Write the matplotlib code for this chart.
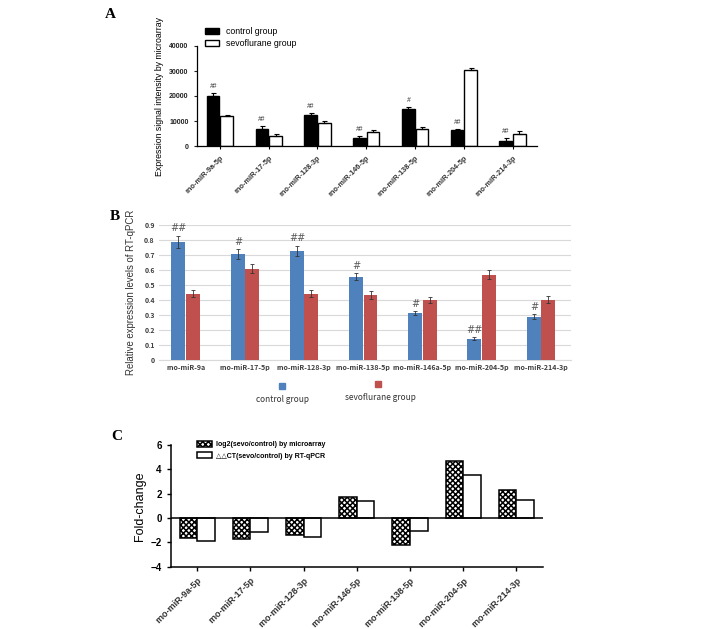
import numpy as np
import matplotlib; matplotlib.use("Agg")
import matplotlib.pyplot as plt
from matplotlib.patches import Rectangle

# --- panel A: microarray signal intensity ---
mirs_a = ["rno-miR-9a-5p", "rno-miR-17-5p", "rno-miR-128-3p", "rno-miR-146-5p",
          "rno-miR-138-5p", "rno-miR-204-5p", "rno-miR-214-3p"]
ctrl_a = [20000, 7000, 12300, 3200, 15000, 6300, 2200]
ctrl_a_err = [1200, 1000, 900, 900, 600, 700, 1100]
sevo_a = [12200, 4000, 9300, 5600, 6800, 30300, 5000]
sevo_a_err = [400, 900, 900, 900, 900, 1000, 900]
sig_a = ["##", "##", "##", "##", "#", "##", "##"]

# --- panel B: RT-qPCR ---
mirs_b = ["rno-miR-9a", "rno-miR-17-5p", "rno-miR-128-3p", "rno-miR-138-5p",
          "rno-miR-146a-5p", "rno-miR-204-5p", "rno-miR-214-3p"]
ctrl_b = [0.79, 0.706, 0.728, 0.556, 0.313, 0.141, 0.289]
ctrl_b_err = [0.04, 0.035, 0.035, 0.025, 0.015, 0.01, 0.015]
sevo_b = [0.443, 0.607, 0.443, 0.432, 0.397, 0.569, 0.402]
sevo_b_err = [0.025, 0.03, 0.025, 0.025, 0.02, 0.03, 0.025]
sig_b = ["##", "#", "##", "#", "#", "##", "#"]
yticks_b = [0, 0.1, 0.2, 0.3, 0.4, 0.5, 0.6, 0.7, 0.8, 0.9]

# --- panel C: fold change ---
mirs_c = mirs_a
fc_array = [-1.64, -1.72, -1.36, 1.74, -2.23, 4.69, 2.34]
fc_qpcr = [-1.88, -1.12, -1.58, 1.36, -1.09, 3.54, 1.47]

ARIAL = ["Liberation Sans", "DejaVu Sans"]
KR = ["Noto Sans CJK KR", "DejaVu Sans"]
plt.rcParams["font.family"] = ARIAL
plt.rcParams["hatch.linewidth"] = 1.1

fig = plt.figure(figsize=(7.08, 6.29), dpi=100)
W, H = 708, 629
def box(l, t, r, b):
    return [l / W, 1 - b / H, (r - l) / W, (b - t) / H]

# ---------------- A ----------------
axA = fig.add_axes(box(197, 46, 537, 146))
x = np.arange(len(mirs_a))
bw = 0.26
ekwA = dict(ecolor="black", elinewidth=0.8, capsize=1.8, capthick=0.8)
axA.bar(x - 0.14, ctrl_a, bw, color="black", edgecolor="black", lw=1,
        yerr=[np.zeros(7), ctrl_a_err], error_kw=ekwA, label="control group")
axA.bar(x + 0.14, sevo_a, bw, color="white", edgecolor="black", lw=1,
        yerr=[np.zeros(7), sevo_a_err], error_kw=ekwA, label="sevoflurane group")
for i, s in enumerate(sig_a):
    axA.text(x[i] - 0.14, ctrl_a[i] + ctrl_a_err[i] + 1200, s, ha="center", va="bottom",
             fontsize=4.8, style="italic", color="#333333")
axA.set_xlim(-0.47, 6.5); axA.set_ylim(0, 40000)
axA.set_yticks([0, 10000, 20000, 30000, 40000])
axA.set_xticks(x)
axA.set_xticklabels(mirs_a, rotation=45, ha="right", rotation_mode="anchor", fontsize=5.3,
                    fontweight="bold", color="#333333")
axA.tick_params(axis="y", labelsize=5, width=0.8, length=2.5, colors="#222222")
axA.tick_params(axis="x", width=0.8, length=2.5)
for lab in axA.get_yticklabels(): lab.set_fontweight("bold")
for s in ["top", "right"]: axA.spines[s].set_visible(False)
for s in ["left", "bottom"]: axA.spines[s].set_linewidth(0.9)
axA.set_ylabel("Expression signal intensity by microarray", fontsize=6.3, labelpad=4)
axA.legend(loc="upper left", bbox_to_anchor=(205 / W, 1 - 27 / H), bbox_transform=fig.transFigure,
           frameon=False, fontsize=6.3, handlelength=1.6, handleheight=0.8, labelspacing=0.35,
           borderaxespad=0, borderpad=0, handletextpad=0.8)

# ---------------- B ----------------
axB = fig.add_axes(box(159, 225, 570.5, 360))
xb = np.arange(len(mirs_b))
bwb = 0.235
blue, red = "#4F81BD", "#C0504D"
ekw = dict(ecolor="#333333", elinewidth=0.6, capsize=1.5, capthick=0.6)
axB.bar(xb - bwb / 2 - 0.005, ctrl_b, bwb, color=blue, yerr=ctrl_b_err, error_kw=ekw, zorder=3)
axB.bar(xb + bwb / 2 + 0.005, sevo_b, bwb, color=red, yerr=sevo_b_err, error_kw=ekw, zorder=3)
for i, s in enumerate(sig_b):
    axB.text(xb[i] - bwb / 2, ctrl_b[i] + ctrl_b_err[i] + 0.015, s, ha="center", va="bottom",
             fontsize=7, style="italic", color="#595959", family=["DejaVu Sans"])
axB.set_xlim(-0.45, 6.5); axB.set_ylim(0, 0.9)
axB.set_yticks(yticks_b)
axB.set_yticklabels([f"{v:g}" for v in yticks_b], fontsize=5, fontweight="bold", color="#404040", family=KR)
axB.set_xticks(xb)
axB.set_xticklabels(mirs_b, fontsize=5.1, fontweight="bold", color="#404040", family=KR)
axB.tick_params(length=0, pad=3)
axB.grid(axis="y", color="#d9d9d9", lw=0.8, zorder=0)
for s in ["top", "right", "left"]: axB.spines[s].set_visible(False)
axB.spines["bottom"].set_color("#d9d9d9")
axB.set_ylabel("Relative expression levels of RT-qPCR", fontsize=6.9, color="#333333", labelpad=6)
# legend below panel B
fig.add_artist(Rectangle((278.5 / W, 1 - 389 / H), 6.5 / W, 6.5 / H, color=blue, transform=fig.transFigure))
fig.add_artist(Rectangle((374.5 / W, 1 - 387 / H), 6.5 / W, 6.5 / H, color=red, transform=fig.transFigure))
fig.text(282 / W, 1 - 399 / H, "control group", ha="center", va="center", fontsize=6, color="#333333", family=KR)
fig.text(380 / W, 1 - 398 / H, "sevoflurane group", ha="center", va="center", fontsize=6, color="#333333", family=KR)

# ---------------- C ----------------
axC = fig.add_axes(box(170.7, 445, 543, 566.7))
xc = np.arange(len(mirs_c))
bwc = 0.33
axC.bar(xc - bwc / 2, fc_array, bwc, color="white", edgecolor="black", lw=1.1, hatch="xxxxxx",
        label="log2(sevo/control) by microarray", zorder=2)
axC.bar(xc + bwc / 2, fc_qpcr, bwc, color="white", edgecolor="black", lw=1.1,
        label="\u25b3\u25b3CT(sevo/control) by RT-qPCR", zorder=2)
axC.axhline(0, color="black", lw=1.1, zorder=3)
axC.set_xlim(-0.5, 6.5); axC.set_ylim(-4, 6)
axC.set_yticks([-4, -2, 0, 2, 4, 6])
axC.set_xticks(xc)
axC.set_xticklabels(mirs_c, rotation=45, ha="right", rotation_mode="anchor", fontsize=6.5,
                    fontweight="bold", color="#333333")
axC.tick_params(axis="y", labelsize=7, width=1, length=3)
axC.tick_params(axis="x", width=1, length=3)
for lab in axC.get_yticklabels(): lab.set_fontweight("bold")
for s in ["top", "right"]: axC.spines[s].set_visible(False)
for s in ["left", "bottom"]: axC.spines[s].set_linewidth(1.1)
axC.set_ylabel("Fold-change", fontsize=9, labelpad=3)
axC.legend(loc="upper left", bbox_to_anchor=(197 / W, 1 - 441 / H), bbox_transform=fig.transFigure,
           frameon=False, handlelength=2.2, handleheight=0.9, labelspacing=0.6,
           borderaxespad=0, borderpad=0, handletextpad=0.5,
           prop=dict(family=ARIAL, size=5, weight="bold"))

# panel letters
for lbl, (px, py) in zip("ABC", [(110, 15), (115, 217), (117, 437)]):
    fig.text(px / W, 1 - py / H, lbl, fontsize=11, fontweight="bold", family=["Liberation Serif"],
             ha="center", va="center")

fig.savefig("out.png", dpi=100)
